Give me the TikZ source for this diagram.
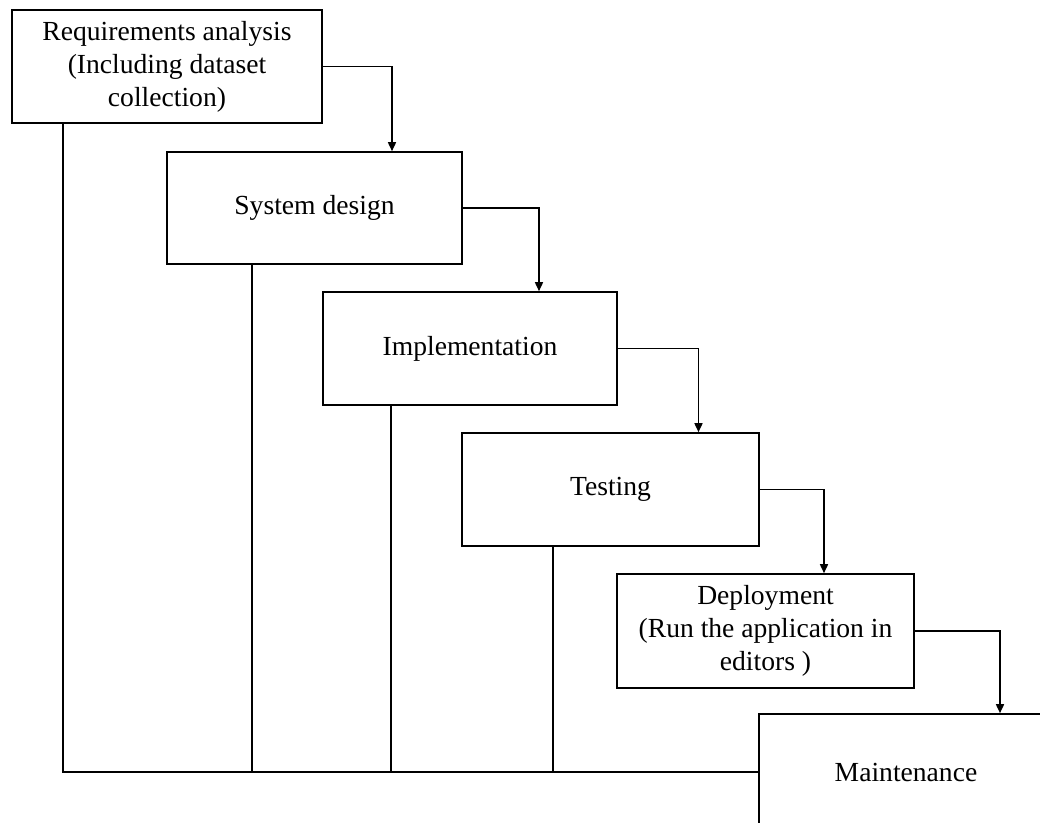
\documentclass[tikz,border=0pt]{standalone}
\usepackage{fontspec}
\setmainfont{Liberation Serif}
\usetikzlibrary{arrows.meta}

\begin{document}
\begin{tikzpicture}[x=0.5pt, y=-0.5pt,
    phase/.style={draw, line width=0.8pt, align=center, inner sep=0pt,
      font=\fontsize{13.8}{16.5}\selectfont},
    flow/.style={line width=0.8pt, -{Triangle[length=4.5pt, width=4pt]}},
    back/.style={line width=0.8pt}]
          \clip (0,0) rectangle (1040,823); % page size

          \node [phase, minimum width=155pt, minimum height=56.5pt] (req) at (167,66.5) {Requirements analysis\\(Including dataset\\collection)};
          \node [phase, minimum width=147.5pt, minimum height=56pt] (sys) at (314.5,208) {System design};
          \node [phase, minimum width=147pt, minimum height=56.5pt] (impl) at (470,348.5) {Implementation};
          \node [phase, minimum width=148.5pt, minimum height=56.5pt] (test) at (610.5,489.5) {Testing};
          \node [phase, minimum width=148.5pt, minimum height=57pt] (dep) at (765.5,631) {Deployment\\(Run the application in\\editors )};
          \node [phase, minimum width=147pt, minimum height=58pt] (maint) at (906,772) {Maintenance};

          \draw [flow] (req.east) -| ([xshift=38.75pt]sys.north);
          \draw [flow] (sys.east) -| ([xshift=34.5pt]impl.north);
          \draw [flow] (impl.east) -| ([xshift=44pt]test.north);
          \draw [flow] (test.east) -| ([xshift=29.25pt]dep.north);
          \draw [flow] (dep.east) -| ([xshift=47pt]maint.north);

          \draw [back] ([xshift=-52pt]req.south) |- (maint.west); % feedback lines
          \draw [back] ([xshift=-31.25pt]sys.south) |- (maint.west);
          \draw [back] ([xshift=-39.5pt]impl.south) |- (maint.west);
          \draw [back] ([xshift=-28.75pt]test.south) |- (maint.west);
        \end{tikzpicture}
\end{document}
